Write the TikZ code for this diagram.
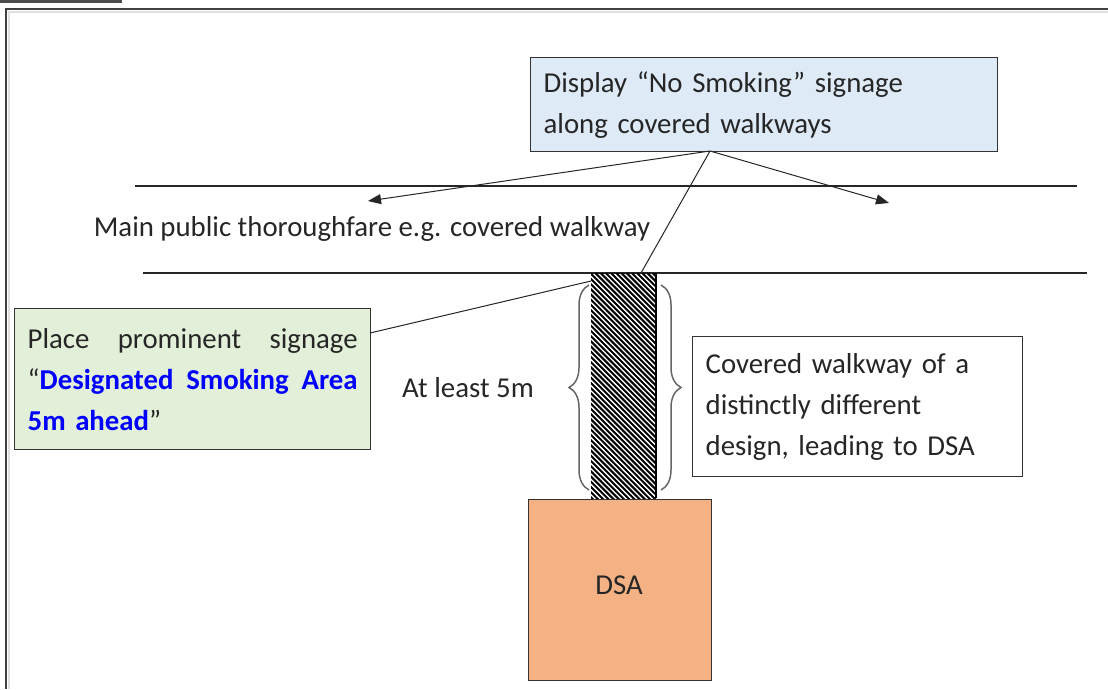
\documentclass[tikz,border=0pt]{standalone}
\usepackage{fontspec}
\setmainfont{Carlito}
\usetikzlibrary{decorations.pathreplacing,arrows.meta}
\definecolor{boxblue}{HTML}{DEEAF6}
\definecolor{boxgreen}{HTML}{E2EFD9}
\definecolor{dsaorange}{HTML}{F4B183}
\definecolor{edge}{HTML}{333333}
\definecolor{txt}{HTML}{262626}
\begin{document}
\begin{tikzpicture}[x=1pt,y=-1pt,
  every node/.style={text=txt},
  txtsize/.style={font=\fontsize{28.8}{41}\selectfont},
  infobox/.style={draw=edge,line width=1.3pt,anchor=north west,txtsize,align=left,inner xsep=13pt,inner ysep=0pt},
  road/.style={line width=1.3pt,draw=black!85},
  conn/.style={line width=1pt,draw=black!85},
  arr/.style={conn,-{Triangle[length=13pt,width=10pt]}},
  brc/.style={draw=black!60,line width=1.5pt,decorate,decoration={brace,amplitude=20pt,aspect=0.5}}
]
\useasboundingbox (0,0) rectangle (1108,689);
% frame
\fill[black!70] (0,0) rectangle (122,3);
\draw[black!12,line width=1.5pt] (9,689) -- (9,12) -- (1108,12);
\draw[black!75,line width=2pt] (6,689) -- (6,9) -- (1108,9);
% roads
\draw[road] (135,186) -- (1077,186);
\draw[road] (143,273) -- (1087,273);
\node[txtsize,anchor=center] (road) at (372,229) {Main public thoroughfare e.g. covered walkway};
% top box
\node[infobox,fill=boxblue,minimum width=467pt,minimum height=94pt,text width=441pt] (nosmoke) at (530,57)
  {Display “No Smoking” signage\\along covered walkways};
% hatch walkway
\begin{scope}
  \clip (591,273) rectangle (656,498);
  \foreach \k in {0,...,60} {
    \draw[black,line width=2pt] (591+5.2*\k-240,273) -- ++(300,300);
  }
\end{scope}
\draw[line width=1.5pt,black] (656,273) -- (656,498);
\node[inner sep=0pt,minimum width=65pt,minimum height=225pt,anchor=north west] (walk) at (591,273) {};
% green box
\node[infobox,fill=boxgreen,minimum width=356pt,minimum height=141pt,text width=330pt] (sign) at (14,308)
  {Place\hfill prominent\hfill signage\\
   “\textcolor{blue}{\bfseries Designated\hfill Smoking\hfill Area}\\
   \textcolor{blue}{\bfseries 5m ahead}”};
% right box
\node[infobox,fill=white,minimum width=330pt,minimum height=140pt,text width=304pt] (cover) at (692,336)
  {Covered walkway of a\\distinctly different\\design, leading to DSA};
% DSA
\node[draw=edge,line width=1.3pt,fill=dsaorange,minimum width=183pt,minimum height=181pt,anchor=north west] (dsa) at (528,499) {};
\node[txtsize,anchor=center] (dsalabel) at (619,585) {DSA};
% at least
\node[txtsize,anchor=center] (least) at (468,388) {At least 5m};
% braces
\coordinate (lbb) at (589,490);
\coordinate (lbt) at (589,285);
\draw[brc] (lbb) -- (lbt);
\coordinate (rbt) at (661,285);
\coordinate (rbb) at (661,490);
\draw[brc] (rbt) -- (rbb);
% connectors
\coordinate (ns) at (710,151);
\coordinate (la) at (368,201);
\coordinate (ra) at (889,203);
\coordinate (wt) at (641,273);
\coordinate (se) at (370,333);
\coordinate (wl) at (591,281);
\draw[arr] (ns) -- (la);
\draw[arr] (ns) -- (ra);
\draw[conn] (ns) -- (wt);
\draw[conn] (se) -- (wl);
\end{tikzpicture}
\end{document}
